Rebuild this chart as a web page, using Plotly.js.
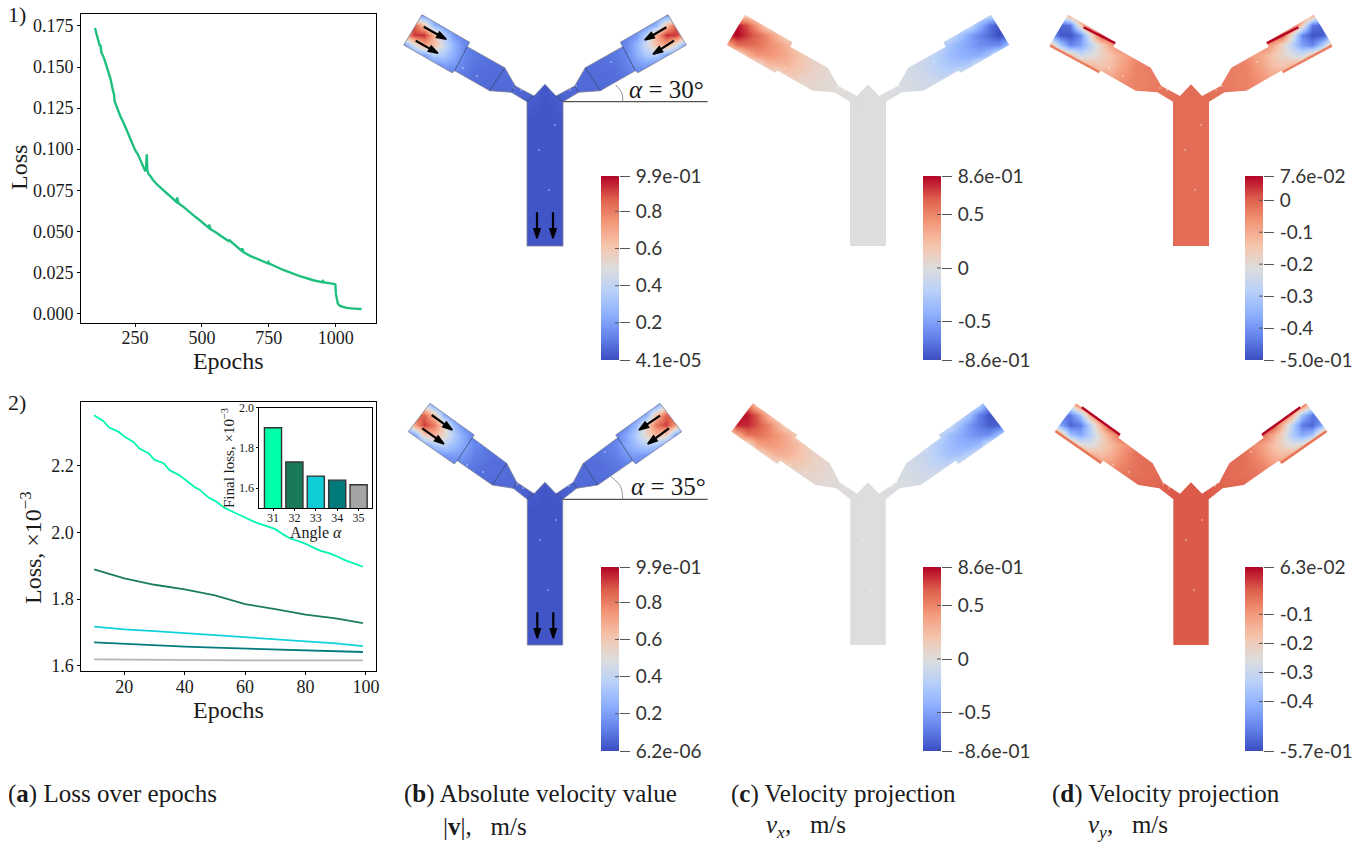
<!DOCTYPE html>
<html><head><meta charset="utf-8">
<script src="https://cdn.plot.ly/plotly-3.0.1.min.js"></script>
<style>html,body{margin:0;padding:0;background:#fff}#chart{width:1372px;height:842px}</style>
</head><body><div id="chart"></div>
<script>
// ---------- loss curves ----------
const lossEpochs = [100,110,119,121,124,135,144,158,169,171,174,182,194,210,225,240,250,260,269,280,287,291,294,296,300,310,318,335,356,380,404,408,412,430,449,470,493,510,525,528,532,550,567,590,599,603,625,648,651,656,680,705,730,746,749,752,804,866,920,950,953,957,997,999,1001,1004,1008,1016,1028,1041,1070,1097];
const lossValues = [.1738,.1680,.1625,.1635,.1590,.1550,.1500,.1430,.1345,.1340,.1290,.1255,.1205,.1150,.1095,.1040,.0995,.0970,.0935,.0900,.0870,.0875,.0968,.0870,.0850,.0830,.0810,.0780,.0750,.0715,.0680,.0705,.0670,.0650,.0622,.0595,.0565,.0545,.0522,.0540,.0512,.0495,.0475,.0450,.0440,.0445,.0412,.0382,.0395,.0372,.0350,.0333,.0318,.0305,.0312,.0303,.0264,.0226,.0200,.0190,.0197,.0189,.0178,.0176,.0120,.0085,.0060,.0045,.0038,.0033,.0029,.0026];

const angleEpochs = [10,13,15,18,20,23,25,28,30,33,35,38,40,43,45,48,50,53,55,58,60,63,65,68,70,73,75,78,80,83,85,88,90,93,95,99];
const lossAngle31 = [2.352,2.335,2.315,2.303,2.288,2.272,2.252,2.238,2.218,2.208,2.187,2.173,2.160,2.138,2.128,2.104,2.095,2.075,2.066,2.052,2.045,2.032,2.026,2.018,2.010,1.992,1.982,1.973,1.966,1.953,1.945,1.937,1.930,1.917,1.910,1.897];
const tenEpochs = [10,20,30,40,50,60,70,80,90,99];
const lossAngle32 = [1.889,1.862,1.843,1.829,1.811,1.785,1.770,1.753,1.742,1.728];
const lossAngle33 = [1.717,1.709,1.704,1.698,1.692,1.685,1.679,1.672,1.667,1.659];
const lossAngle34 = [1.670,1.665,1.661,1.657,1.654,1.651,1.649,1.647,1.644,1.641];
const lossAngle35 = [1.619,1.618,1.617,1.617,1.617,1.616,1.616,1.616,1.616,1.616];
const angleColors = ['#00f7b0','#1a7d5c','#12d3dc','#047b7e','#b4b4b4'];

const barAngles = ['31','32','33','34','35'];
const barValues = [1.90,1.73,1.66,1.64,1.617];
const barColors = ['#00ffaa','#1a7a57','#10ccd6','#007a7a','#a4a4a4'];

// ---------- channel outlines, left half as read (dx from the stem axis, screen y) ----------
const outlineDx30 = [-18,-18,-33.7,-55.3,-90.3,-93,-141.3,-123,-75.3,-77.7,-40.3,-29.7,-11,0];
const outlineY30  = [246,101.7,92.3,90.7,70.7,72.7,45,14.7,42.3,46.7,67.7,86,96,84.3];
const outlineDx35 = [-17.7,-17.7,-31.7,-52.7,-87.7,-90.7,-136.7,-115,-70.7,-72.7,-38.3,-28.3,-11,0];
const outlineY35  = [645,499.3,488.3,485,460.7,464,431.7,403.3,435,437.7,463.3,482.3,493.7,482.3];
const seamDx30 = [-77.7,-90.3,null,-40.3,-55.3,null,-29.7,-33.7,null,-11,-18];
const seamY30  = [46.7,70.7,null,67.7,90.7,null,86,92.3,null,96,101.7];
const seamDx35 = [-72.7,-87.7,null,-38.3,-52.7,null,-28.3,-31.7,null,-11,-17.7];
const seamY35  = [437.7,460.7,null,463.3,485,null,482.3,488.3,null,493.7,499.3];

// inlet edge strips of the v_y panels: dx1,y1,dx2,y2
const topStrip30 = [-107.5,27.2,-75.8,43.2];
const lowStrip30 = [-140.8,45.6,-91.5,72.2];
const topStrip35 = [-109.3,407.2,-71,434.8];
const lowStrip35 = [-135.3,431.2,-90,462.8];

// isolated pale specks seen on the fields: dx, y
const speckDx30 = [-82,-68,-31,-24,31,25,-6,4,10,-50,66];
const speckY30  = [68,76,88,90,86,90,150,190,125,60,62];
const speckDx35 = [-78,-62,-28,-22,28,24,-5,3,11,-46,60];
const speckY35  = [465,472,484,488,482,486,540,590,520,450,452];

// ---------- velocity fields, hundredths of m/s, left arm as read ----------
const fieldDx = [-141,-131,-121,-111,-101,-91,-81,-71,-55,-35,-15];
const fieldRowY = [15,25,35,45,55,65,75,85,100];
const absV30 = [
 [16,18,18,16,12,10,10,10,8,6,5],
 [82,88,62,26,16,12,10,10,8,6,5],
 [72,92,94,68,36,18,12,10,8,6,5],
 [18,46,70,64,44,26,14,10,8,6,5],
 [16,16,20,36,34,24,14,10,8,7,6],
 [14,14,14,14,20,18,12,9,8,7,7],
 [10,10,10,10,10,12,10,8,7,7,7],
 [7,7,7,7,7,7,7,7,7,7,7],
 [4,4,4,4,4,4,4,4,5,7,4]];
const absV35 = [
 [70,60,49,20,16,12,10,10,8,6,5],
 [75,88,86,64,24,14,11,10,8,6,5],
 [22,70,92,82,56,28,14,10,8,6,5],
 [16,18,56,66,54,36,22,12,9,6,5],
 [14,14,18,33,37,30,22,14,9,7,6],
 [12,12,12,14,18,20,18,12,9,7,7],
 [10,10,10,10,11,12,12,10,8,7,7],
 [7,7,7,7,7,7,8,8,8,7,6],
 [4,4,4,4,4,4,4,4,5,7,4]];
const vx30 = [
 [30,20,15,5,3,3,3,3,2,1,0],
 [85,84,68,40,8,5,3,3,2,1,0],
 [78,86,74,62,48,28,8,5,3,1,0],
 [30,58,60,58,50,42,30,13,3,1,0],
 [5,-5,28,44,44,40,34,24,8,3,1],
 [0,0,-5,-3,24,28,28,22,12,3,1],
 [0,0,0,0,-5,0,17,16,9,4,1],
 [0,0,0,0,0,0,0,5,7,3,1],
 [0,0,0,0,0,0,0,0,3,2,1]];
const vx35 = [
 [60,80,64,20,8,6,4,3,2,1,0],
 [80,86,82,66,32,8,6,4,2,1,0],
 [45,78,78,68,54,33,8,5,3,1,0],
 [5,30,56,58,52,44,33,15,5,1,0],
 [0,0,-3,35,42,41,35,26,8,2,1],
 [0,0,0,-2,20,30,30,24,12,3,1],
 [0,0,0,0,0,2,17,17,11,4,1],
 [0,0,0,0,0,0,0,6,8,4,1],
 [0,0,0,0,0,0,0,0,2,2,1]];
const vy30 = [
 [-10,-24,-8,0,3,3,2,0,-3,-2,-1],
 [-42,-47,-44,-16,3,3,3,2,-2,-2,-1],
 [-38,-48,-49,-42,-20,1,4,3,-3,-2,-1],
 [-10,-30,-42,-38,-28,-18,-9,-3,-3,-3,-2],
 [-8,-8,-13,-24,-22,-18,-14,-10,-5,-3,-2],
 [-8,-8,-8,-8,-12,-15,-13,-9,-4,-3,-2],
 [-8,-8,-8,-8,-8,-8,-10,-7,-4,-3,-2],
 [-6,-6,-6,-6,-6,-6,-6,-5,-4,-3,-2],
 [-3,-3,-3,-3,-3,-3,-3,-3,-3,-2,-1]];
const vy35 = [
 [-30,-47,-25,-3,3,3,3,2,-1,-2,-1],
 [-42,-52,-50,-38,-12,3,4,3,0,-2,-1],
 [-15,-42,-53,-50,-33,-14,3,4,0,-2,-1],
 [-8,-10,-36,-42,-34,-22,-12,-3,-1,-3,-2],
 [-8,-8,-8,-22,-26,-21,-16,-11,-5,-3,-2],
 [-8,-8,-8,-8,-12,-16,-14,-9,-4,-3,-2],
 [-8,-8,-8,-8,-8,-9,-9,-7,-4,-3,-1],
 [-6,-6,-6,-6,-6,-5,-5,-5,-4,-3,-1],
 [-2,-2,-2,-2,-2,-2,-2,-2,-2,-2,-1]];

// ---------- colour bars ----------
const barTicks = {
 abs30:{vals:[.99,.8,.6,.4,.2,4.1e-5],text:['9.9e-01','0.8','0.6','0.4','0.2','4.1e-05'],lo:4.1e-5,hi:.99},
 vx30:{vals:[.86,.5,0,-.5,-.86],text:['8.6e-01','0.5','0','-0.5','-8.6e-01'],lo:-.86,hi:.86},
 vy30:{vals:[.076,0,-.1,-.2,-.3,-.4,-.5],text:['7.6e-02','0','-0.1','-0.2','-0.3','-0.4','-5.0e-01'],lo:-.5,hi:.076},
 abs35:{vals:[.99,.8,.6,.4,.2,6.2e-6],text:['9.9e-01','0.8','0.6','0.4','0.2','6.2e-06'],lo:6.2e-6,hi:.99},
 vx35:{vals:[.86,.5,0,-.5,-.86],text:['8.6e-01','0.5','0','-0.5','-8.6e-01'],lo:-.86,hi:.86},
 vy35:{vals:[.063,-.1,-.2,-.3,-.4,-.57],text:['6.3e-02','-0.1','-0.2','-0.3','-0.4','-5.7e-01'],lo:-.57,hi:.063}
};
const coolWarm = [[0,'#3b4cc0'],[.125,'#6282ea'],[.25,'#8db0fe'],[.375,'#b8d0f9'],[.5,'#dddddd'],[.625,'#f5c4ac'],[.75,'#f4987a'],[.875,'#de614d'],[1,'#b40426']];

// ---------- flow arrows: tail dx, tail y, head dx, head y ----------
const arrows30 = [[-121.3,26.7,-98.7,39.3],[-129.3,40.7,-107,53.3],[121.3,27.3,99.7,40],[129,40.7,108,54.3],[-8,212.3,-8,238.3],[8,212.3,8,238.3]];
const arrows35 = [[-113.3,415,-92.7,430],[-122.7,428.3,-101,444],[115,415.7,94,430],[124,428.3,102.7,444],[-7.7,612.3,-7.7,638.3],[8.3,612.3,8.3,638.3]];

const captions = [
 {x:6,y:794,t:'(<b>a</b>) Loss over epochs'},
 {x:402,y:794,t:'(<b>b</b>) Absolute velocity value'},
 {x:441,y:826,t:'|<b>v</b>|,&nbsp;&nbsp;&nbsp;m/s'},
 {x:729,y:794,t:'(<b>c</b>) Velocity projection'},
 {x:764,y:826,t:'<i>v<sub>x</sub></i>,&nbsp;&nbsp;&nbsp;m/s'},
 {x:1050,y:794,t:'(<b>d</b>) Velocity projection'},
 {x:1086,y:826,t:'<i>v<sub>y</sub></i>,&nbsp;&nbsp;&nbsp;m/s'}
];

// ---------- build ----------
const W=1372,H=842, SERIF='"Liberation Serif", serif', SANS='Lato, "Open Sans", sans-serif', INK='#1a1a1a';
const fx=(a,b)=>[a/W,b/W], fy=(top,bot)=>[1-bot/H,1-top/H];
const traces=[], annotations=[];
const layout={width:W,height:H,margin:{l:0,r:0,t:0,b:0},paper_bgcolor:'#fff',plot_bgcolor:'rgba(0,0,0,0)',showlegend:false,autosize:false,annotations};
const note=(x,y,text,size,more)=>annotations.push(Object.assign({xref:'paper',yref:'paper',x:x/W,y:1-y/H,xanchor:'center',yanchor:'middle',showarrow:false,text,font:{family:SERIF,size,color:INK}},more||{}));

function frame(a,extra){return Object.assign({showline:true,linecolor:'#000',linewidth:1,mirror:true,ticks:'outside',ticklen:3,tickcolor:'#000',showgrid:false,zeroline:false,tickfont:{family:SERIF,size:18,color:INK}},extra,a);}

layout.xaxis=frame({domain:fx(81,375.5),range:[48,1149],tickvals:[250,500,750,1000],ticklabelstandoff:-4,anchor:'y',title:{text:'Epochs',font:{family:SERIF,size:24,color:INK},standoff:3}});
layout.yaxis=frame({domain:fy(13.5,322.7),range:[-.0057,.1826],tickvals:[0,.025,.05,.075,.1,.125,.15,.175],ticktext:['0.000','0.025','0.050','0.075','0.100','0.125','0.150','0.175'],anchor:'x'});
note(19,168,'Loss',24,{textangle:-90});
traces.push({type:'scatter',mode:'lines',x:lossEpochs,y:lossValues,xaxis:'x',yaxis:'y',line:{color:'#1fbf7f',width:2.4},hoverinfo:'skip'});

layout.xaxis2=frame({domain:fx(81.3,375.6),range:[5.76,103.2],tickvals:[20,40,60,80,100],ticklabelstandoff:-4,anchor:'y2',title:{text:'Epochs',font:{family:SERIF,size:24,color:INK},standoff:1}});
layout.yaxis2=frame({domain:fy(402.3,671),range:[1.584,2.391],tickvals:[1.6,1.8,2.0,2.2],ticktext:['1.6','1.8','2.0','2.2'],anchor:'x2'});
note(31,548,'Loss, ×10<sup>−3</sup>',24,{textangle:-90});
[[angleEpochs,lossAngle31],[tenEpochs,lossAngle32],[tenEpochs,lossAngle33],[tenEpochs,lossAngle34],[tenEpochs,lossAngle35]].forEach((s,i)=>{
 traces.push({type:'scatter',mode:'lines',x:s[0],y:s[1],xaxis:'x2',yaxis:'y2',line:{color:angleColors[i],width:1.8},hoverinfo:'skip'});
});

layout.xaxis3=frame({domain:fx(259.3,372.3),range:[-.64,4.64],type:'category',anchor:'y3',ticklen:2,ticklabelstandoff:-4,tickfont:{family:SERIF,size:12,color:INK}});
note(316,533,'Angle <i>α</i>',16);
layout.yaxis3=frame({domain:fy(407.7,508.3),range:[1.5,2.0],tickvals:[1.6,1.8,2.0],ticktext:['1.6','1.8','2.0'],anchor:'x3',ticklen:2,tickfont:{family:SERIF,size:12,color:INK}});
note(228,458,'Final loss, ×10<sup>−3</sup>',15,{textangle:-90});
traces.push({type:'bar',x:barAngles,y:barValues,xaxis:'x3',yaxis:'y3',width:.8,marker:{color:barColors,line:{color:'#333',width:1.4}},hoverinfo:'skip'});

// full-page canvas in screen pixels for the channel panels
const hide={visible:false,showgrid:false,zeroline:false,fixedrange:true};
layout.xaxis4=Object.assign({},hide,{domain:[0,1],range:[0,W],anchor:'y4'});
layout.yaxis4=Object.assign({},hide,{domain:[0,1],range:[H,0],anchor:'x4'});

function addPanel(cx,y0,matrix,sign,base,lo,hi,oDx,oY,seamDx,seamY,drawEdges,specks,strips){
 const xs=fieldDx.map(d=>cx+d).concat([cx]).concat(fieldDx.slice().reverse().map(d=>cx-d));
 const ys=fieldRowY.map(y=>y+y0).concat([120+y0,oY[0]-2,oY[0]+2]);
 const row=l=>l.map(v=>v/100).concat([base/100]).concat(l.slice().reverse().map(v=>sign*v/100));
 const z=matrix.map(row);
 for(let i=0;i<3;i++) z.push(xs.map(()=>base/100));
 traces.push({type:'heatmap',x:xs,y:ys,z,xaxis:'x4',yaxis:'y4',zmin:lo,zmax:hi,colorscale:coolWarm,showscale:false,zsmooth:'best',hoverinfo:'skip'});
 // closed outline: left half then mirrored right half
 const ox=oDx.map(d=>cx+d).concat(oDx.slice(0,-1).reverse().map(d=>cx-d));
 const oy=oY.concat(oY.slice(0,-1).reverse());
 const L=cx-155,R=cx+155,T=y0+2,B=oY[0]+12,Y=oY[0];
 // white surround: outer rectangle one way round, outline the other, joined by a seam
 const mx=[L,L,R,R,L,L].concat(ox).concat([ox[0],L]);
 const my=[Y,B,B,T,T,Y].concat(oy).concat([Y,Y]);
 traces.push({type:'scatter',mode:'none',x:mx,y:my,xaxis:'x4',yaxis:'y4',fill:'toself',fillcolor:'#fff',hoverinfo:'skip'});
 traces.push({type:'scatter',mode:'markers',x:specks[0].map(d=>cx+d),y:specks[1],xaxis:'x4',yaxis:'y4',marker:{color:'rgba(255,255,255,.7)',size:1.6,line:{width:0}},hoverinfo:'skip'});
 if(strips){
  strips.forEach(s=>{
   [1,-1].forEach(m=>traces.push({type:'scatter',mode:'lines',x:[cx+m*s.p[0],cx+m*s.p[2]],y:[s.p[1],s.p[3]],xaxis:'x4',yaxis:'y4',line:{color:s.c,width:2.4},hoverinfo:'skip'}));
  });
 }
 if(drawEdges){
  traces.push({type:'scatter',mode:'lines',x:ox.concat([ox[0]]),y:oy.concat([oy[0]]),xaxis:'x4',yaxis:'y4',line:{color:'#7c8296',width:.8},hoverinfo:'skip'});
  const sx=seamDx.map(d=>d===null?null:cx+d).concat([null]).concat(seamDx.map(d=>d===null?null:cx-d));
  const sy=seamY.concat([null]).concat(seamY);
  traces.push({type:'scatter',mode:'lines',x:sx,y:sy,xaxis:'x4',yaxis:'y4',line:{color:'#3a4166',width:.7},hoverinfo:'skip'});
 }
}
const sp30=[speckDx30,speckY30], sp35=[speckDx35,speckY35];
addPanel(545,0,absV30,1,2,4.1e-5,.99,outlineDx30,outlineY30,seamDx30,seamY30,true,sp30);
addPanel(868,0,vx30,-1,0,-.86,.86,outlineDx30,outlineY30,seamDx30,seamY30,false,sp30);
addPanel(1191,0,vy30,1,-1,-.5,.076,outlineDx30,outlineY30,seamDx30,seamY30,false,sp30,[{p:topStrip30,c:'#b40426'},{p:lowStrip30,c:'#ea8063'}]);
addPanel(545,390,absV35,1,2,6.2e-6,.99,outlineDx35,outlineY35,seamDx35,seamY35,true,sp35);
addPanel(868,390,vx35,-1,0,-.86,.86,outlineDx35,outlineY35,seamDx35,seamY35,false,sp35);
addPanel(1191,390,vy35,1,-1,-.57,.063,outlineDx35,outlineY35,seamDx35,seamY35,false,sp35,[{p:topStrip35,c:'#b40426'},{p:lowStrip35,c:'#e8775a'}]);

// angle markers
const angleLines=[{x:[563.3,707.7],y:[101.7,101.7]},{x:[563,707.7],y:[499.3,499.3]}];
const angleArcs=[{x:[622.7,622,615.7],y:[101.7,93.3,85]},{x:[622.7,620.7,611],y:[499.3,486.7,476.7]}];
angleLines.forEach(l=>traces.push({type:'scatter',mode:'lines',x:l.x,y:l.y,xaxis:'x4',yaxis:'y4',line:{color:'#2a2a2a',width:1},hoverinfo:'skip'}));
angleArcs.forEach(l=>traces.push({type:'scatter',mode:'lines',x:l.x,y:l.y,xaxis:'x4',yaxis:'y4',line:{color:'#777',width:.8,shape:'spline'},hoverinfo:'skip'}));
note(666,89,'<i>α</i> = 30°',25);
note(668,486,'<i>α</i> = 35°',25);

// flow arrows as line + head marker
[[545,arrows30],[545,arrows35]].forEach(([cx,list])=>list.forEach(a=>traces.push({type:'scatter',mode:'lines+markers',x:[cx+a[0],cx+a[2]],y:[a[1],a[3]],xaxis:'x4',yaxis:'y4',line:{color:'#000',width:2.2},marker:{color:'#000',opacity:1,symbol:['circle','arrow'],size:[0,10],angleref:'previous',line:{color:'#000',width:1.5}},hoverinfo:'skip'})));

// colour bars
[[barTicks.abs30,601,176,360],[barTicks.vx30,923,176,360],[barTicks.vy30,1245,176,360],[barTicks.abs35,601,567,751],[barTicks.vx35,923,567,751],[barTicks.vy35,1245,567,751]].forEach((b,i)=>{
 const n=5+i,t=b[0],x0=b[1],top=b[2],bot=b[3];
 layout['xaxis'+n]={domain:fx(x0,x0+18),range:[0,1],visible:false,fixedrange:true,anchor:'y'+n};
 layout['yaxis'+n]={domain:fy(top,bot),range:[t.lo,t.hi],side:'right',anchor:'x'+n,tickmode:'array',tickvals:t.vals,ticktext:t.text,ticks:'outside',ticklen:10,tickcolor:'#555',tickwidth:1,ticklabelstandoff:2,showgrid:false,zeroline:false,showline:false,tickfont:{family:SANS,size:19,color:'#333'},fixedrange:true};
 traces.push({type:'heatmap',x:[0,1],y:[t.lo,t.hi],z:[[t.lo,t.lo],[t.hi,t.hi]],xaxis:'x'+n,yaxis:'y'+n,zmin:t.lo,zmax:t.hi,zsmooth:'best',colorscale:coolWarm,showscale:false,hoverinfo:'skip'});
 const sx=[],sy=[];
 t.vals.forEach(v=>{sx.push(.78,1,null);sy.push(v,v,null);});
 traces.push({type:'scatter',mode:'lines',x:sx,y:sy,xaxis:'x'+n,yaxis:'y'+n,line:{color:'#555',width:1},hoverinfo:'skip'});
});

// captions and row labels
note(6,15,'1)',22,{xanchor:'left'});
note(6,402,'2)',22,{xanchor:'left'});
captions.forEach(c=>note(c.x,c.y,c.t,25,{xanchor:'left'}));

Plotly.newPlot('chart',traces,layout,{displayModeBar:false,staticPlot:true});
</script></body></html>
